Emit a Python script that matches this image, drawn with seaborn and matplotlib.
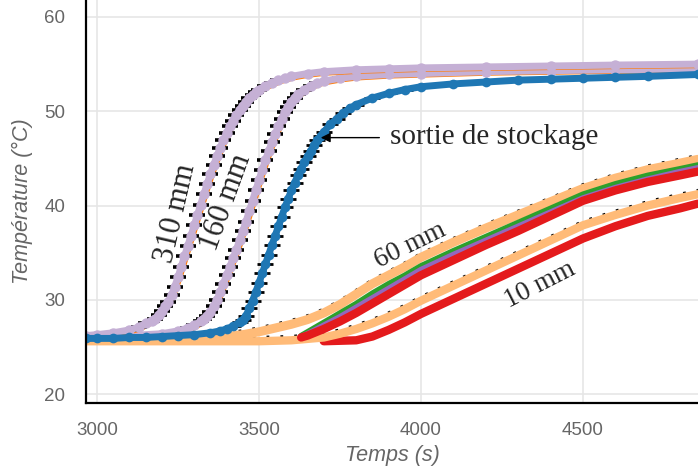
import matplotlib
matplotlib.use('Agg')
import matplotlib.pyplot as plt
import matplotlib.transforms as mtransforms
from matplotlib.ticker import MultipleLocator
import seaborn as sns

# Courbes de température
t_310 = [2966, 3000, 3050, 3100, 3130, 3150, 3170, 3180, 3190, 3200, 3210, 3220,
         3230, 3240, 3250, 3260, 3270, 3280, 3290, 3300, 3310, 3320, 3330, 3340,
         3350, 3360, 3370, 3380, 3390, 3400, 3410, 3420, 3430, 3440, 3450, 3460,
         3470, 3480, 3490, 3500, 3520, 3540, 3560, 3580, 3600, 3650, 3700, 3800,
         3900, 4000, 4200, 4400, 4600, 4855]
T_310 = [26.2, 26.3, 26.5, 26.8, 27.1, 27.5, 27.8, 28.0, 28.4, 28.8, 29.3, 29.8,
         30.5, 31.4, 32.4, 33.5, 34.6, 35.7, 36.8, 37.9, 39.0, 40.1, 41.2, 42.3,
         43.3, 44.3, 45.2, 46.1, 46.9, 47.7, 48.4, 49.0, 49.6, 50.1, 50.6, 51.0,
         51.4, 51.7, 52.0, 52.3, 52.7, 53.0, 53.3, 53.5, 53.7, 54.0, 54.2, 54.4,
         54.5, 54.6, 54.7, 54.8, 54.9, 55.0]

t_160 = [2966, 3000, 3100, 3200, 3250, 3280, 3300, 3320, 3330, 3340, 3350, 3360,
         3370, 3380, 3390, 3400, 3410, 3420, 3430, 3440, 3450, 3460, 3470, 3480,
         3490, 3500, 3510, 3520, 3530, 3540, 3550, 3560, 3570, 3580, 3590, 3600,
         3610, 3620, 3640, 3660, 3680, 3700, 3750, 3800, 3900, 4000, 4200, 4400,
         4600, 4855]
T_160 = [26.0, 26.1, 26.2, 26.4, 26.7, 27.0, 27.3, 27.7, 28.0, 28.3, 28.7, 29.3,
         30.0, 30.8, 31.7, 32.6, 33.5, 34.4, 35.3, 36.3, 37.3, 38.3, 39.4, 40.5,
         41.6, 42.7, 43.8, 44.8, 45.8, 46.7, 47.6, 48.4, 49.2, 49.9, 50.5, 51.0,
         51.4, 51.8, 52.3, 52.7, 53.0, 53.2, 53.5, 53.7, 53.9, 54.0, 54.2, 54.3,
         54.4, 54.5]

t_sortie = [2966, 3000, 3050, 3100, 3150, 3200, 3250, 3300, 3350, 3380, 3400, 3420,
            3440, 3450, 3460, 3470, 3480, 3490, 3500, 3510, 3520, 3530, 3540, 3550,
            3560, 3570, 3580, 3590, 3600, 3610, 3620, 3630, 3640, 3650, 3660, 3670,
            3680, 3690, 3700, 3720, 3740, 3760, 3780, 3800, 3850, 3900, 3950, 4000,
            4100, 4200, 4300, 4400, 4500, 4600, 4700, 4855]
T_sortie = [25.9, 25.9, 25.9, 26.0, 26.0, 26.1, 26.2, 26.3, 26.5, 26.7, 26.9, 27.2,
            27.6, 27.9, 28.3, 29.1, 29.9, 30.8, 31.8, 32.8, 33.8, 34.8, 35.8, 36.8,
            37.8, 38.8, 39.8, 40.7, 41.6, 42.4, 43.2, 43.9, 44.6, 45.2, 45.8, 46.4,
            46.9, 47.4, 47.8, 48.6, 49.2, 49.8, 50.3, 50.7, 51.4, 51.9, 52.3, 52.6,
            52.9, 53.1, 53.3, 53.4, 53.5, 53.6, 53.7, 53.9]

# groupe 60 mm
t_60_orange = [2966, 3100, 3200, 3300, 3400, 3450, 3500, 3550, 3600, 3650, 3700, 3750,
               3800, 3850, 3900, 3950, 4000, 4100, 4200, 4300, 4400, 4500, 4600, 4700,
               4800, 4855]
T_60_orange = [25.7, 25.7, 25.8, 25.9, 26.1, 26.3, 26.6, 27.0, 27.4, 27.9, 28.6, 29.5,
               30.6, 31.7, 32.6, 33.5, 34.5, 36.1, 37.6, 39.0, 40.4, 41.8, 42.9, 43.8,
               44.5, 44.9]
t_60 = [3630, 3650, 3700, 3750, 3800, 3850, 3900, 3950, 4000, 4100, 4200,
        4300, 4400, 4500, 4600, 4700, 4800, 4855]
T_60_vert = [26.2, 26.6, 27.6, 28.6, 29.6, 30.7, 31.7, 32.6, 33.6, 35.2, 36.7,
             38.2, 39.7, 41.2, 42.3, 43.2, 43.9, 44.3]
T_60_violet = [26.1, 26.4, 27.3, 28.2, 29.2, 30.2, 31.2, 32.2, 33.2, 34.8, 36.3,
               37.8, 39.3, 40.8, 41.9, 42.8, 43.6, 44.0]
T_60_rouge = [26.0, 26.2, 26.9, 27.7, 28.6, 29.6, 30.6, 31.6, 32.6, 34.2, 35.8,
              37.3, 38.9, 40.5, 41.6, 42.5, 43.2, 43.6]

# groupe 10 mm
t_10_orange = [2966, 3500, 3600, 3700, 3750, 3800, 3850, 3900, 3950, 4000, 4100, 4200,
               4300, 4400, 4500, 4600, 4700, 4800, 4855]
T_10_orange = [25.6, 25.6, 25.7, 26.0, 26.4, 26.9, 27.5, 28.2, 29.0, 29.9, 31.5, 33.1,
               34.7, 36.3, 37.9, 39.0, 40.0, 40.8, 41.2]
t_10_rouge = [3700, 3800, 3850, 3900, 3950, 4000, 4100, 4200, 4300, 4400, 4500,
              4600, 4700, 4800, 4855]
T_10_rouge = [25.6, 25.7, 26.1, 26.8, 27.6, 28.5, 30.1, 31.7, 33.3, 34.9, 36.5,
              37.8, 38.9, 39.7, 40.2]

lavande = '#c5b0d5'
bleu = '#1f77b4'
orange_clair = '#ffbb78'
orange = '#ff7f0e'
rouge = '#e41a1c'
vert = '#2ca02c'
violet = '#9467bd'

sns.set_style('white')
plt.rcParams['font.family'] = ['Liberation Sans', 'DejaVu Sans']

fig = plt.figure(figsize=(6.98, 4.75), dpi=100)
ax = fig.add_axes([0.1232, 0.1516, 0.8768, 0.8484])

haut = mtransforms.offset_copy(ax.transData, fig=fig, x=0, y=4, units='dots')
decal = mtransforms.offset_copy(ax.transData, fig=fig, x=2, y=-2, units='dots')

# bandes du bas (10 mm puis 60 mm)
sns.lineplot(x=t_10_orange, y=T_10_orange, ax=ax, color='black', lw=2,
             linestyle=(0, (1, 4)), transform=haut)
sns.lineplot(x=t_60_orange, y=T_60_orange, ax=ax, color='black', lw=2,
             linestyle=(0, (1, 4)), transform=haut)
sns.lineplot(x=t_10_rouge, y=T_10_rouge, ax=ax, color=rouge, lw=6,
             solid_capstyle='round')
sns.lineplot(x=t_10_orange, y=T_10_orange, ax=ax, color=orange_clair, lw=6)
sns.lineplot(x=t_60_orange, y=T_60_orange, ax=ax, color=orange_clair, lw=6.5)
sns.lineplot(x=t_60, y=T_60_vert, ax=ax, color=vert, lw=4, solid_capstyle='round')
sns.lineplot(x=t_60, y=T_60_violet, ax=ax, color=violet, lw=4, solid_capstyle='round')
sns.lineplot(x=t_60, y=T_60_rouge, ax=ax, color=rouge, lw=6, solid_capstyle='round')

# 160 mm et 310 mm
for t, T in [(t_160, T_160), (t_310, T_310)]:
    sns.lineplot(x=t, y=T, ax=ax, color=orange, lw=3, transform=decal)
    sns.lineplot(x=t, y=T, ax=ax, color='black', lw=0, marker='_',
                 markersize=11.5, markeredgewidth=2.6, markeredgecolor='black')
    sns.lineplot(x=t, y=T, ax=ax, color=lavande, lw=5, marker='o',
                 markersize=7.5, markeredgewidth=0)

# sortie de stockage
sns.lineplot(x=t_sortie, y=T_sortie, ax=ax, color='black', lw=0, marker='_',
             markersize=11.5, markeredgewidth=2, markeredgecolor='black')
sns.lineplot(x=t_sortie, y=T_sortie, ax=ax, color=bleu, lw=5, marker='o',
             markersize=7, markeredgewidth=0)

# annotations
serif = ['Liberation Serif', 'DejaVu Serif']
ax.text(3243, 39.2, '310 mm', rotation=77, family=serif, fontsize=22,
        ha='center', va='center')
ax.text(3398, 40.3, '160 mm', rotation=70, family=serif, fontsize=22,
        ha='center', va='center')
ax.text(3966, 35.8, '60 mm', rotation=26, family=serif, fontsize=19.5,
        ha='center', va='center')
ax.text(4367, 31.6, '10 mm', rotation=27, family=serif, fontsize=19.5,
        ha='center', va='center')
ax.text(3904, 47.3, 'sortie de stockage', family=serif, fontsize=21,
        ha='left', va='center')
ax.annotate('', xy=(3682, 47.2), xytext=(3880, 47.2),
            arrowprops=dict(arrowstyle='-|>', color='black', lw=1,
                            mutation_scale=14))

ax.set_xlim(2966, 4855)
ax.set_ylim(19.05, 61.8)
ax.xaxis.set_major_locator(MultipleLocator(500))
ax.xaxis.set_minor_locator(MultipleLocator(100))
ax.yaxis.set_major_locator(MultipleLocator(10))
ax.yaxis.set_minor_locator(MultipleLocator(2))
ax.grid(True, which='major', color='#e6e6e6', lw=1.2)
ax.set_axisbelow(True)

for s in ['top', 'right']:
    ax.spines[s].set_visible(False)
for s in ['left', 'bottom']:
    ax.spines[s].set_color('black')
    ax.spines[s].set_linewidth(1.6)

ax.tick_params(which='major', direction='out', length=8, width=1.5,
               color='black', labelcolor='#666666', labelsize=13.5)
ax.tick_params(which='minor', direction='out', length=5, width=1.3, color='black')
ax.tick_params(axis='y', which='major', pad=7)
ax.tick_params(axis='x', which='major', pad=6)

ax.set_xlabel('Temps (s)', fontsize=15.5, style='italic', color='#666666', labelpad=4)
ax.set_ylabel('Température (°C)', fontsize=15.5, style='italic', color='#666666',
              labelpad=8)

fig.savefig('out.png', dpi=100)
